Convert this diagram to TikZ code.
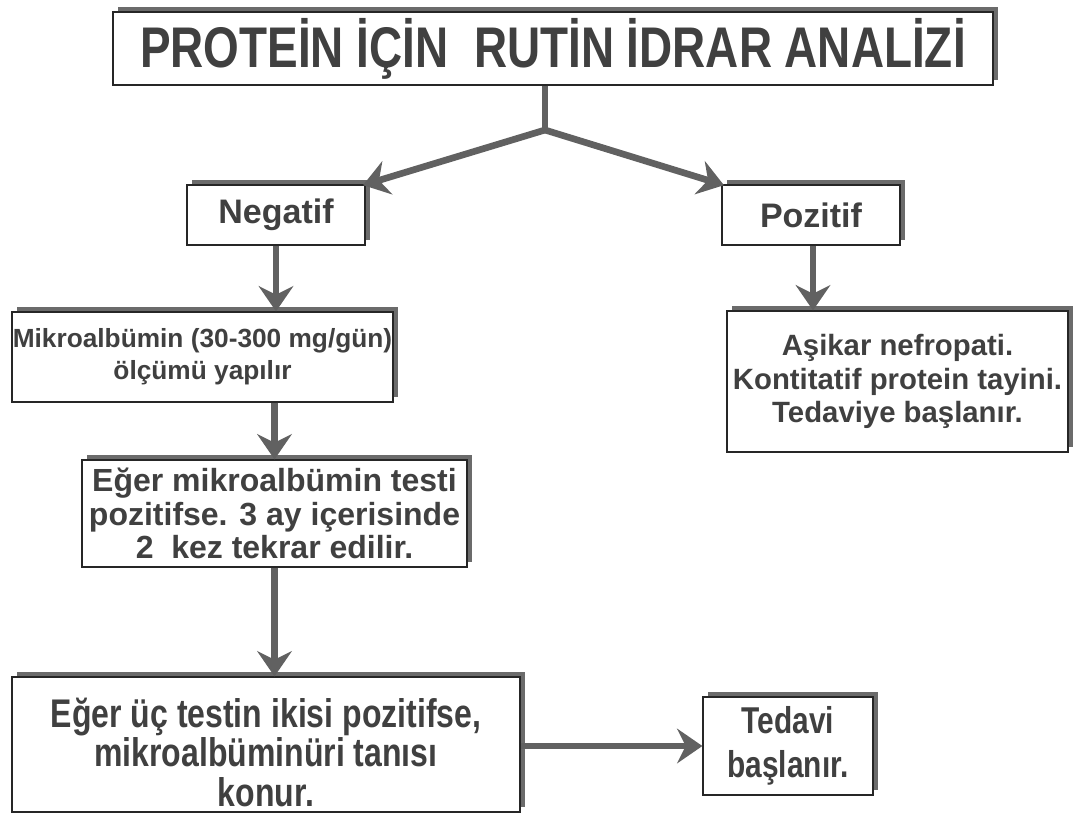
\documentclass[tikz,border=0pt]{standalone}
\usepackage{fontspec}
\setmainfont{Liberation Sans}
\newfontfamily\narrowfont[FakeStretch=0.8]{Liberation Sans}
\usetikzlibrary{arrows.meta,shadows}
\begin{document}
\begin{tikzpicture}[x=0.75pt,y=-0.75pt,
  box/.style={draw=black!85, line width=0.9pt, fill=white, inner sep=0pt,
    align=center, text=black!75, font=\bfseries,
    general shadow={fill=black!58, shadow xshift=3.8pt, shadow yshift=3.8pt}},
  arr/.style={draw=black!62, line width=5pt,
    -{Stealth[length=19pt, width=26pt, inset=6.5pt, fill=black!62]}},
  ln/.style={draw=black!62, line width=5pt}
]
\useasboundingbox (0,0) rectangle (1077,814);

\node[box, minimum width=660pt, minimum height=54.75pt,
  font=\narrowfont\bfseries\fontsize{43}{47}\selectfont] (title) at (553,48.5)
  {PROTEİN İÇİN\ \ RUTİN İDRAR ANALİZİ};

\node[box, minimum width=133.5pt, minimum height=45pt,
  font=\bfseries\fontsize{25.5}{29}\selectfont] (neg) at (276,215) {Negatif};
\node[box, minimum width=133.5pt, minimum height=45pt,
  font=\bfseries\fontsize{25.5}{29}\selectfont] (pos) at (811,215) {Pozitif};

\node[box, minimum width=285.75pt, minimum height=67.5pt,
  font=\bfseries\fontsize{19.7}{24}\selectfont] (mik) at (202.5,357)
  {Mikroalbümin (30-300 mg/gün)\\ölçümü yapılır};

\node[box, minimum width=288.75pt, minimum height=80.25pt,
  font=\bfseries\fontsize{24}{25}\selectfont] (eger) at (274.5,513.5)
  {Eğer mikroalbümin testi\\pozitifse. 3 ay içerisinde\\2\ \ kez tekrar edilir.};

\node[box, minimum width=381pt, minimum height=101.25pt,
  font=\narrowfont\bfseries\fontsize{30}{29.5}\selectfont] (last) at (266,744.5)
  {\rule{0pt}{34pt}Eğer üç testin ikisi pozitifse,\\mikroalbüminüri tanısı\\konur.};

\node[box, minimum width=127.5pt, minimum height=73.5pt,
  font=\narrowfont\bfseries\fontsize{28}{33}\selectfont] (ted) at (788,746)
  {Tedavi\\başlanır.};

\node[box, minimum width=255.75pt, minimum height=105.75pt,
  font=\bfseries\fontsize{22}{25}\selectfont] (asi) at (897.5,381.5)
  {Aşikar nefropati.\\Kontitatif protein tayini.\\Tedaviye başlanır.};

\coordinate (split) at (545,130);
\draw[ln] (title.south -| split) -- (split);
\draw[arr, shorten >=-2pt] (split) -- (neg.north east);
\draw[arr, shorten >=-2pt] (split) -- (pos.north west);
\draw[arr] (neg.south) -- (neg.south |- mik.north);
\draw[arr] (eger.north |- mik.south) -- (eger.north);
\draw[arr] (eger.south) -- (eger.south |- last.north);
\draw[arr] (pos.south -| 813,0) -- (813,0 |- asi.north);
\draw[arr] (ted.west -| last.east) -- (ted.west);
\end{tikzpicture}
\end{document}
